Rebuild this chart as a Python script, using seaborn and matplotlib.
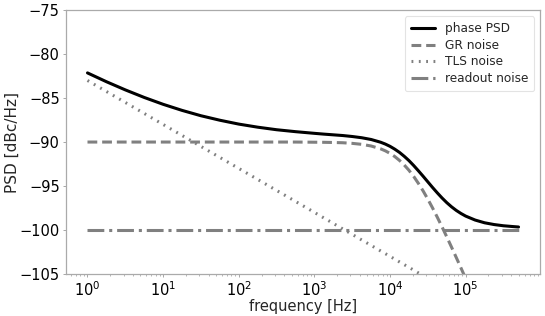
import matplotlib
matplotlib.use("Agg")
import matplotlib.pyplot as plt
import seaborn as sns
import pandas as pd

sns.set_theme(style="white")
plt.rcParams['font.family'] = ['DejaVu Sans']

freq = [1, 1.778, 3.162, 5.623, 10, 17.78, 31.62, 56.23, 100, 177.8, 316.2, 562.3,
        1000, 1334, 1778, 2371, 3162, 4217, 5623, 7499, 8660, 10000, 11550, 13340,
        15400, 17780, 20540, 23710, 27380, 31620, 36520, 42170, 48700, 56230, 64940,
        74990, 86600, 100000, 133400, 177800, 237100, 316200, 421700, 500000]

phase_psd = [-82.14, -83.14, -84.07, -84.93, -85.71, -86.40, -87.01, -87.52, -87.96,
             -88.31, -88.60, -88.82, -89.01, -89.10, -89.18, -89.26, -89.37, -89.51,
             -89.71, -90.02, -90.23, -90.49, -90.81, -91.18, -91.62, -92.11, -92.67,
             -93.27, -93.89, -94.53, -95.17, -95.78, -96.36, -96.89, -97.36, -97.77,
             -98.12, -98.42, -98.87, -99.18, -99.38, -99.52, -99.61, -99.66]

gr_noise = [-90.0, -90.0, -90.0, -90.0, -90.0, -90.0, -90.0, -90.0, -90.0, -90.0,
            -90.0, -90.0, -90.02, -90.03, -90.05, -90.08, -90.15, -90.26, -90.45,
            -90.77, -91.00, -91.29, -91.65, -92.09, -92.61, -93.21, -93.91, -94.70,
            -95.56, -96.50, -97.50, -98.55, -99.65, -100.78, -101.94, -103.12,
            -104.31, -105.52, -107.97, -110.44, -112.92, -115.41, -117.91, -119.4]

tls_noise = [-83.0, -84.25, -85.5, -86.75, -88.0, -89.25, -90.5, -91.75, -93.0, -94.25,
             -95.5, -96.75, -98.0, -98.63, -99.25, -99.88, -100.5, -101.13, -101.75,
             -102.38, -102.69, -103.0, -103.31, -103.63, -103.94, -104.25, -104.56,
             -104.88, -105.19, -105.5, -105.81, -106.13, -106.44, -106.75, -107.06,
             -107.38, -107.69, -108.0, -108.63, -109.25, -109.88, -110.5, -111.13,
             -111.5]

readout_noise = [-100.0] * len(freq)

x_ticks = [1, 10, 100, 1000, 10000, 100000]

labels = ["phase PSD", "GR noise", "TLS noise", "readout noise"]
series = [phase_psd, gr_noise, tls_noise, readout_noise]

df = pd.concat([pd.DataFrame({"freq": freq, "psd": s, "curve": lab})
                for lab, s in zip(labels, series)], ignore_index=True)

fig = plt.figure(figsize=(5.45, 3.16), dpi=100)
ax = fig.add_axes([0.121, 0.133, 0.870, 0.835])

styles = {
    "phase PSD": dict(color="black", lw=2.2, ls="-"),
    "GR noise": dict(color="#808080", lw=2.2, ls=(0, (3.2, 1.6))),
    "TLS noise": dict(color="#808080", lw=2.2, ls=(0, (0.6, 1.8))),
    "readout noise": dict(color="#808080", lw=2.2, ls=(0, (5.5, 1.6, 1.0, 1.6))),
}
for lab in labels:
    sub = df[df["curve"] == lab]
    sns.lineplot(data=sub, x="freq", y="psd", ax=ax, label=lab, **styles[lab])

ax.set_xscale("log")
ax.set_xticks(x_ticks)
ax.set_ylim(-105, -75)
ax.set_xlabel("frequency [Hz]", fontsize=10.5, labelpad=0)
ax.set_ylabel("PSD [dBc/Hz]", fontsize=11)
ax.yaxis.set_label_coords(-0.097, 0.5)
ax.tick_params(axis="both", labelsize=10.5, length=2.5, width=0.6, pad=2,
               color="#999999", labelcolor="black", bottom=True, left=True)
ax.tick_params(axis="x", which="minor", bottom=True, length=1.5, width=0.5, color="#999999")
for sp in ax.spines.values():
    sp.set_color("#aaaaaa")
    sp.set_linewidth(0.9)

leg = ax.legend(loc="upper right", fontsize=8.7, frameon=True, handlelength=2.0,
                borderpad=0.5, labelspacing=0.3, handletextpad=0.8)
leg.get_frame().set_edgecolor("#dddddd")
leg.get_frame().set_linewidth(0.8)

fig.savefig("out.png", dpi=100)
